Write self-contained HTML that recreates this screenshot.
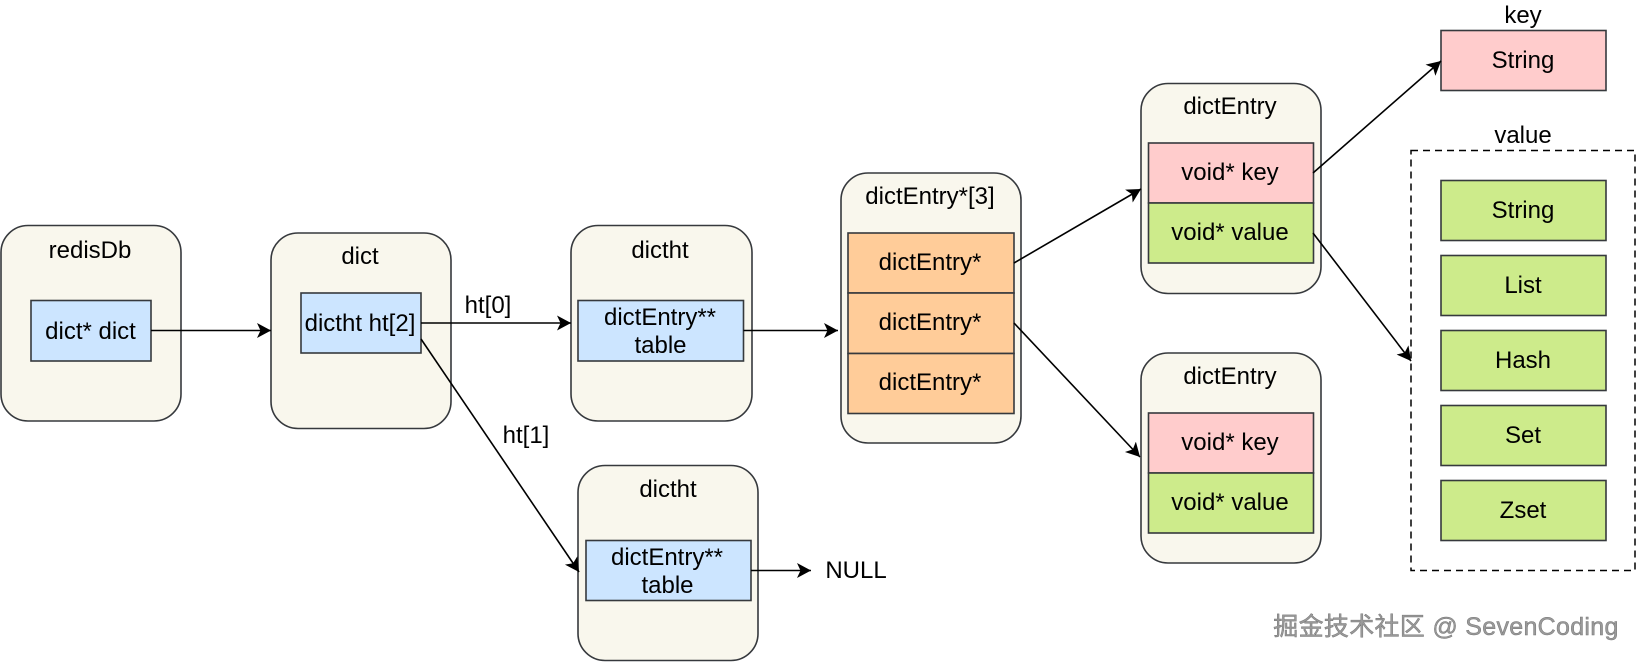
<!DOCTYPE html>
<html><head><meta charset="utf-8"><style>
html,body{margin:0;padding:0;background:#fff;width:1637px;height:662px;overflow:hidden}
svg{display:block;filter:blur(0.35px)}
text{font-family:"Liberation Sans","Noto Sans CJK SC",sans-serif;font-size:24px;fill:#000;text-anchor:middle}
.o{fill:#f9f7ed;stroke:#36393d;stroke-width:1.6}
.b,.p,.g,.r{stroke:#36393d;stroke-width:1.6}
.b{fill:#cce5ff}.p{fill:#ffcccc}.g{fill:#cdeb8b}.r{fill:#ffcc99}
.l{stroke:#000;stroke-width:1.6;fill:none;marker-end:url(#a)}
</style></head><body>
<svg width="1637" height="662" viewBox="0 0 1637 662" xmlns="http://www.w3.org/2000/svg">
<defs><marker id="a" markerUnits="userSpaceOnUse" markerWidth="16" markerHeight="16" refX="14" refY="8" orient="auto"><path d="M0 0.5L14 8L0 15.5L3.5 8Z" fill="#000"/></marker></defs>

<rect class="o" x="1" y="225.5" width="180" height="195.5" rx="27"/>
<text x="90" y="258">redisDb</text>
<rect class="b" x="31" y="300.5" width="120" height="60.5"/>
<text x="90.5" y="339">dict* dict</text>

<rect class="o" x="271" y="233" width="180" height="195.5" rx="27"/>
<text x="360" y="264">dict</text>
<rect class="b" x="301" y="293" width="120" height="60"/>
<text x="360" y="331">dictht ht[2]</text>

<rect class="o" x="571" y="225.5" width="181" height="195.5" rx="27"/>
<text x="660" y="258">dictht</text>
<rect class="b" x="578" y="300.5" width="165.5" height="60.5"/>
<text x="660" y="325">dictEntry**</text>
<text x="660.5" y="353">table</text>

<rect class="o" x="578" y="465.5" width="180" height="195" rx="27"/>
<text x="668" y="497">dictht</text>
<rect class="b" x="586" y="540.5" width="165" height="60"/>
<text x="667" y="565">dictEntry**</text>
<text x="667.5" y="593">table</text>

<rect class="o" x="841" y="173" width="180" height="270" rx="27"/>
<text x="930" y="204">dictEntry*[3]</text>
<rect class="r" x="848" y="233" width="166" height="60"/>
<rect class="r" x="848" y="293" width="166" height="60.5"/>
<rect class="r" x="848" y="353.5" width="166" height="60"/>
<text x="930" y="270">dictEntry*</text>
<text x="930" y="330">dictEntry*</text>
<text x="930" y="390">dictEntry*</text>

<rect class="o" x="1141" y="83.5" width="180" height="210" rx="27"/>
<text x="1230" y="114">dictEntry</text>
<rect class="p" x="1148.5" y="143" width="165" height="60"/>
<rect class="g" x="1148.5" y="203" width="165" height="60"/>
<text x="1230" y="180">void* key</text>
<text x="1230" y="240">void* value</text>

<rect class="o" x="1141" y="353" width="180" height="210" rx="27"/>
<text x="1230" y="384">dictEntry</text>
<rect class="p" x="1148.5" y="413" width="165" height="60"/>
<rect class="g" x="1148.5" y="473" width="165" height="60"/>
<text x="1230" y="450">void* key</text>
<text x="1230" y="510">void* value</text>

<text x="1523" y="23">key</text>
<rect class="p" x="1441" y="30.5" width="165" height="60"/>
<text x="1523" y="68">String</text>

<text x="1523" y="143">value</text>
<rect x="1411" y="150.5" width="224" height="420" fill="#fff" stroke="#000" stroke-width="1.5" stroke-dasharray="7 5"/>
<rect class="g" x="1441" y="180.5" width="165" height="60"/><text x="1523" y="218">String</text>
<rect class="g" x="1441" y="255.5" width="165" height="60"/><text x="1523" y="293">List</text>
<rect class="g" x="1441" y="330.5" width="165" height="60"/><text x="1523" y="368">Hash</text>
<rect class="g" x="1441" y="405.5" width="165" height="60"/><text x="1523" y="443">Set</text>
<rect class="g" x="1441" y="480.5" width="165" height="60"/><text x="1523" y="518">Zset</text>

<path class="l" d="M151 330.5H271"/>
<path class="l" d="M421 323H571"/>
<path class="l" d="M421 339L579 572"/>
<path class="l" d="M743.5 330.5H838"/>
<path class="l" d="M1014 263L1141 189"/>
<path class="l" d="M1014 323L1140 457"/>
<path class="l" d="M1313 173L1441 61"/>
<path class="l" d="M1313 233L1411 361"/>
<path class="l" d="M751 570.5H811"/>

<text x="488" y="313">ht[0]</text>
<text x="526" y="443">ht[1]</text>
<text x="856" y="578">NULL</text>

<text x="1446" y="635" style="font-size:25px;fill:#9a9a9a;stroke:#777;stroke-width:0.5;letter-spacing:.3px">掘金技术社区 @ SevenCoding</text>
</svg>
</body></html>
